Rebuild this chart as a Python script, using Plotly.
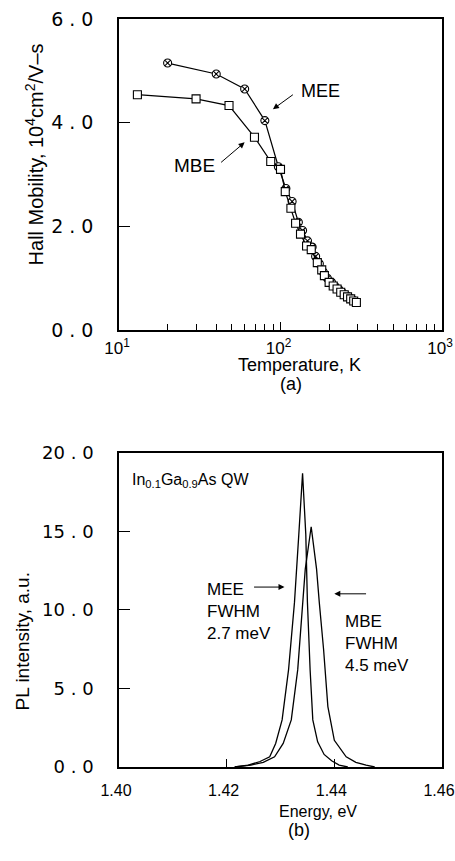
import plotly.graph_objects as go

# ---- (a) Hall mobility vs temperature ----
mee_T = [20, 40, 60, 80, 97, 108, 118, 129, 137, 147, 157, 165, 174, 184, 195, 207, 218, 230, 242, 254, 266, 278, 290]
mee_mu = [5.15, 4.94, 4.65, 4.04, 3.15, 2.73, 2.48, 2.08, 1.92, 1.72, 1.60, 1.42, 1.28, 1.12, 1.00, 0.92, 0.84, 0.78, 0.72, 0.67, 0.63, 0.59, 0.55]

mbe_T = [13, 30, 48, 69, 87, 100, 107, 116, 124, 133, 145, 155, 169, 180, 187, 200, 212, 224, 236, 248, 260, 272, 284, 295]
mbe_mu = [4.54, 4.46, 4.33, 3.72, 3.25, 3.10, 2.67, 2.35, 2.06, 1.85, 1.62, 1.55, 1.30, 1.16, 1.05, 0.92, 0.85, 0.79, 0.73, 0.68, 0.64, 0.60, 0.56, 0.53]

# ---- (b) PL spectra ----
mee_E = [1.4215, 1.4240, 1.4262, 1.4280, 1.4291, 1.4303, 1.4315, 1.4326, 1.4334, 1.4341,
         1.4347, 1.4350, 1.4355, 1.4360, 1.4369, 1.4381, 1.4395, 1.4409, 1.4425]
mee_I = [0.0, 0.12, 0.35, 0.65, 1.5, 3.0, 6.2, 10.5, 14.8, 18.7,
         14.8, 10.5, 6.2, 3.0, 1.6, 0.8, 0.4, 0.12, 0.0]

mbe_E = [1.4215, 1.4245, 1.4268, 1.4289, 1.4305, 1.4320, 1.4332, 1.4341, 1.4346, 1.4357,
         1.4367, 1.4372, 1.4380, 1.4388, 1.4400, 1.4422, 1.4440, 1.4459, 1.4475]
mbe_I = [0.0, 0.12, 0.3, 0.65, 1.5, 3.0, 6.2, 10.5, 12.6, 15.3,
         12.6, 10.5, 7.5, 3.85, 1.7, 0.65, 0.3, 0.12, 0.0]

y1_ticks = [0, 2, 4, 6]
y1_text = ["0 . 0", "2 . 0", "4 . 0", "6 . 0"]
x1_ticks = [10, 100, 1000]
x1_text = ["10<sup>1</sup>", "10<sup>2</sup>", "10<sup>3</sup>"]
x1_minor = [20, 30, 40, 50, 60, 70, 80, 90, 200, 300, 400, 500, 600, 700, 800, 900]
y2_ticks = [0, 5, 10, 15, 20]
y2_text = ["0 . 0", "5 . 0", "10 . 0", "15 . 0", "20 . 0"]
x2_ticks = [1.40, 1.42, 1.44, 1.46]
x2_text = ["1.40", "1.42", "1.44", "1.46"]

FONT = "Liberation Sans, Arial, sans-serif"
TICKFONT = "DejaVu Sans, sans-serif"

fig = go.Figure()
fig.add_trace(go.Scatter(x=mee_T, y=mee_mu, mode="lines+markers", name="MEE",
                         line=dict(color="black", width=1.2),
                         marker=dict(symbol="circle-x", size=8, color="white",
                                     line=dict(color="black", width=1.1)),
                         xaxis="x", yaxis="y"))
fig.add_trace(go.Scatter(x=mbe_T, y=mbe_mu, mode="lines+markers", name="MBE",
                         line=dict(color="black", width=1.2),
                         marker=dict(symbol="square", size=8, color="white",
                                     line=dict(color="black", width=1.1)),
                         xaxis="x", yaxis="y"))
fig.add_trace(go.Scatter(x=mee_E, y=mee_I, mode="lines", name="MEE PL",
                         line=dict(color="black", width=1.3),
                         xaxis="x2", yaxis="y2"))
fig.add_trace(go.Scatter(x=mbe_E, y=mbe_I, mode="lines", name="MBE PL",
                         line=dict(color="black", width=1.3),
                         xaxis="x2", yaxis="y2"))

axis_common = dict(showline=True, linecolor="black", linewidth=1.5, mirror=True,
                   showgrid=False, zeroline=False, ticks="inside", automargin=False,
                   tickcolor="black", tickwidth=1.2, ticklabeloverflow="allow")

fig.update_layout(
    width=455, height=861,
    margin=dict(l=119, r=13, t=19, b=94),
    paper_bgcolor="white", plot_bgcolor="white",
    showlegend=False,
    font=dict(family=FONT, color="black"),
    xaxis=dict(domain=[0, 1], anchor="y", type="log", range=[1, 3],
               tickmode="array", tickvals=x1_ticks, ticktext=x1_text, ticklen=8,
               tickfont=dict(family=FONT, size=17), ticklabelstandoff=2,
               ticklabelshift=-2,
               minor=dict(ticks="inside", tickmode="array", tickvals=x1_minor,
                          ticklen=6, tickcolor="black", tickwidth=1.1),
               **axis_common),
    yaxis=dict(domain=[0.5842, 1], anchor="x", range=[0, 6],
               tickmode="array", tickvals=y1_ticks, ticktext=y1_text, ticklen=11,
               tickfont=dict(family=TICKFONT, size=19), ticklabelstandoff=20,
               **axis_common),
    xaxis2=dict(domain=[0, 1], anchor="y2", range=[1.40, 1.46],
                tickmode="array", tickvals=x2_ticks, ticktext=x2_text, ticklen=8,
                tickfont=dict(family=FONT, size=16), ticklabelstandoff=8,
                ticklabelshift=-3,
                **axis_common),
    yaxis2=dict(domain=[0, 0.4198], anchor="x2", range=[0, 20],
                tickmode="array", tickvals=y2_ticks, ticktext=y2_text, ticklen=11,
                tickfont=dict(family=TICKFONT, size=18), ticklabelstandoff=20,
                **axis_common),
)

ann = []
# axis titles and captions
ann.append(dict(text="Hall Mobility, 10<sup>4</sup>cm<sup>2</sup>/V–s", xref="paper", yref="paper",
                x=-0.263, y=0.819, textangle=-90, showarrow=False, font=dict(size=20),
                xanchor="center", yanchor="middle"))
ann.append(dict(text="Temperature, K", xref="paper", yref="paper", x=0.560, y=0.5370,
                showarrow=False, font=dict(size=18), xanchor="center", yanchor="middle"))
ann.append(dict(text="(a)", xref="paper", yref="paper", x=0.5325, y=0.5125,
                showarrow=False, font=dict(size=18), xanchor="center", yanchor="middle"))
ann.append(dict(text="PL intensity, a.u.", xref="paper", yref="paper",
                x=-0.300, y=0.168, textangle=-90, showarrow=False, font=dict(size=19),
                xanchor="center", yanchor="middle"))
ann.append(dict(text="Energy, eV", xref="paper", yref="paper", x=0.6146, y=-0.0600,
                showarrow=False, font=dict(size=16), xanchor="center",
                yanchor="middle"))
ann.append(dict(text="(b)", xref="paper", yref="paper", x=0.557, y=-0.0840,
                showarrow=False, font=dict(size=18), xanchor="center", yanchor="middle"))

# (a) labels with arrows
ann.append(dict(text="MEE", xref="x", yref="y", x=2.247, y=4.615, showarrow=False,
                font=dict(size=18), xanchor="center", yanchor="middle"))
ann.append(dict(text="", xref="x", yref="y", x=1.953, y=4.26, axref="x", ayref="y",
                ax=2.086, ay=4.56, showarrow=True, arrowhead=2, arrowsize=1.2,
                arrowwidth=1, arrowcolor="black"))
ann.append(dict(text="MBE", xref="x", yref="y", x=1.469, y=3.17, showarrow=False,
                font=dict(size=19), xanchor="center", yanchor="middle"))
ann.append(dict(text="", xref="x", yref="y", x=1.778, y=3.62, axref="x", ayref="y",
                ax=1.623, ay=3.21, showarrow=True, arrowhead=2, arrowsize=1.2,
                arrowwidth=1, arrowcolor="black"))

# (b) labels
ann.append(dict(text="In<sub>0.1</sub>Ga<sub>0.9</sub>As QW", xref="x2", yref="y2",
                x=1.4020, y=18.27, showarrow=False, font=dict(size=16),
                xanchor="left", yanchor="middle"))
ann.append(dict(text="MEE<br>FWHM<br>2.7 meV", xref="x2", yref="y2", x=1.41593, y=9.9,
                showarrow=False, font=dict(size=17), xanchor="left",
                yanchor="middle", align="left"))
ann.append(dict(text="", xref="x2", yref="y2", x=1.43074, y=11.46, axref="x2", ayref="y2",
                ax=1.42481, ay=11.46, showarrow=True, arrowhead=2, arrowsize=1.2,
                arrowwidth=1, arrowcolor="black"))
ann.append(dict(text="MBE<br>FWHM<br>4.5 meV", xref="x2", yref="y2", x=1.44154, y=7.88,
                showarrow=False, font=dict(size=17), xanchor="left",
                yanchor="middle", align="left"))
ann.append(dict(text="", xref="x2", yref="y2", x=1.44000, y=11.03, axref="x2", ayref="y2",
                ax=1.44617, ay=11.03, showarrow=True, arrowhead=2, arrowsize=1.2,
                arrowwidth=1, arrowcolor="black"))

fig.update_layout(annotations=ann)
fig.write_html("out.html", config={"displayModeBar": False},
               post_script="document.body.style.margin='0';document.body.style.overflow='hidden';")
